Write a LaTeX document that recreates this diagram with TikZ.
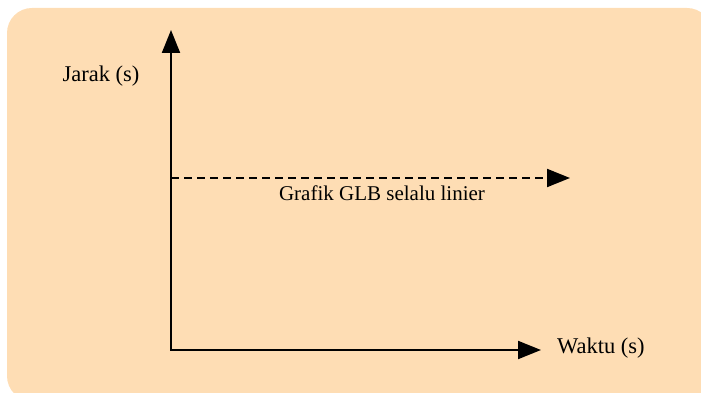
\documentclass[tikz,border=0pt]{standalone}
\usepackage{fontspec}
\setmainfont{Liberation Serif}
\usetikzlibrary{arrows.meta}
\definecolor{peach}{RGB}{254,221,180}
\begin{document}
\begin{tikzpicture}[x=1pt,y=1pt,>={Triangle[length=23pt,width=18pt]},
        axis/.style={line width=2pt},
        lbl/.style={font=\fontsize{22.5}{26}\selectfont,inner sep=0pt}]
        \useasboundingbox (0,0) rectangle (701,393);
        \fill[peach,rounded corners=25pt] (7,-8) rectangle (712,385);
        \coordinate (O) at (171,43);
        \coordinate (ytip) at (171,363);
        \coordinate (xtip) at (541,43);
        \coordinate (lstart) at (171,215);
        \coordinate (lend) at (570,215);
        \draw[axis,<->] (ytip) -- (O) -- (xtip);
        \draw[axis,->,dash pattern=on 8pt off 5pt] (lstart) -- (lend);
        \node[lbl] (jarak) at (101,317) {Jarak (s)};
        \node[lbl,anchor=west] (waktu) at (557,45) {Waktu (s)};
        \node[lbl,font=\fontsize{21}{25}\selectfont] (glb) at (382,200) {Grafik GLB selalu linier};
        \end{tikzpicture}
\end{document}
